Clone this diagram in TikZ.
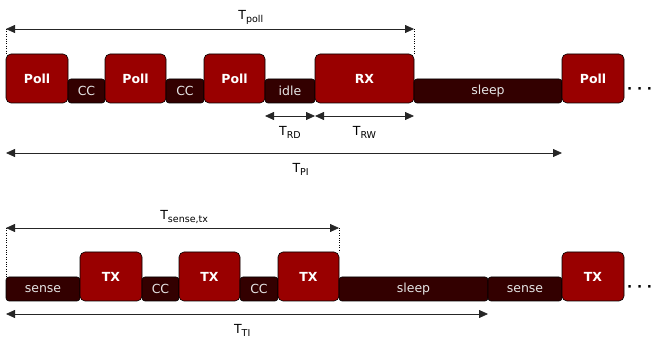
\documentclass[tikz,border=0pt]{standalone}
\usepackage{fontspec}
\setmainfont{DejaVu Sans}
\usepackage{xcolor}
\usepackage{tikz}
\usetikzlibrary{positioning,arrows.meta}

\definecolor{slotred}{HTML}{990000}
\definecolor{slotdark}{HTML}{330000}
\newcommand{\tsub}[1]{\raisebox{-0.45ex}{\fontsize{9.5}{10}\selectfont #1}}

\begin{document}
\begin{tikzpicture}[x=1pt,y=1pt,>={Triangle[length=9pt,width=8pt]},
    font=\fontsize{12.5}{15}\selectfont,
    big node/.style={draw=black,line width=0.6pt,fill=slotred,text=white,font=\fontsize{12.5}{15}\selectfont\bfseries,
        rounded corners=5pt,minimum height=49pt,inner sep=0pt,outer sep=0pt},
    small node/.style={draw=black,line width=0.6pt,fill=slotdark,text=white!90!black,
        rounded corners=3pt,minimum height=24pt,inner sep=0pt,outer sep=0pt},
    span/.style={<->,line width=0.8pt,draw=black!85},
    dots node/.style={font=\fontsize{13.5}{14}\selectfont\bfseries,inner sep=0pt,anchor=west,yshift=12pt}]
    \useasboundingbox (0,0) rectangle (654,348);

    % receiver
    \node[big node,minimum width=62pt,anchor=south west] (p1) at (6,245) {Poll};
    \node[small node,minimum width=37pt,right=0pt of p1.south east,anchor=south west] (cc1) {CC};
    \node[big node,minimum width=61pt,right=0pt of cc1.south east,anchor=south west] (p2) {Poll};
    \node[small node,minimum width=38pt,right=0pt of p2.south east,anchor=south west] (cc2) {CC};
    \node[big node,minimum width=61pt,right=0pt of cc2.south east,anchor=south west] (p3) {Poll};
    \node[small node,minimum width=50pt,right=0pt of p3.south east,anchor=south west] (idle) {idle};
    \node[big node,minimum width=99pt,right=0pt of idle.south east,anchor=south west] (rx) {RX};
    \node[small node,minimum width=148pt,right=0pt of rx.south east,anchor=south west] (sl1) {sleep};
    \node[big node,minimum width=62pt,right=0pt of sl1.south east,anchor=south west] (p4) {Poll};
    \node[dots node,right=3pt of p4.south east] (dots1) {·~·~·};

    \coordinate (pollA) at ([yshift=25pt]p1.north west);
    \coordinate (pollB) at ([yshift=25pt]rx.north east);
    \draw[dotted] (pollA) -- (p1.north west);
    \draw[dotted] (pollB) -- (rx.north east);
    \draw[span] (pollA) -- (pollB) node[pos=0.6,above=1pt] (tpoll) {T\tsub{poll}};
    \coordinate (rdA) at ([yshift=-13pt]idle.south west);
    \coordinate (rdB) at ([yshift=-13pt]idle.south east);
    \draw[span] (rdA) -- (rdB) node[midway,below=7pt] (trd) {T\tsub{RD}};
    \coordinate (rwA) at ([yshift=-13pt]rx.south west);
    \coordinate (rwB) at ([yshift=-13pt]rx.south east);
    \draw[span] (rwA) -- (rwB) node[midway,below=7pt] (trw) {T\tsub{RW}};
    \coordinate (piA) at ([yshift=-50pt]p1.south west);
    \coordinate (piB) at ([yshift=-50pt]p4.south west);
    \draw[span] (piA) -- (piB) node[pos=0.53,below=7pt] (tpi) {T\tsub{PI}};

    % sender
    \node[small node,minimum width=74pt,anchor=south west] (s1) at (6,47) {sense};
    \node[big node,minimum width=62pt,right=0pt of s1.south east,anchor=south west] (t1) {TX};
    \node[small node,minimum width=37pt,right=0pt of t1.south east,anchor=south west] (cc3) {CC};
    \node[big node,minimum width=61pt,right=0pt of cc3.south east,anchor=south west] (t2) {TX};
    \node[small node,minimum width=38pt,right=0pt of t2.south east,anchor=south west] (cc4) {CC};
    \node[big node,minimum width=61pt,right=0pt of cc4.south east,anchor=south west] (t3) {TX};
    \node[small node,minimum width=149pt,right=0pt of t3.south east,anchor=south west] (sl2) {sleep};
    \node[small node,minimum width=74pt,right=0pt of sl2.south east,anchor=south west] (s2) {sense};
    \node[big node,minimum width=62pt,right=0pt of s2.south east,anchor=south west] (t4) {TX};
    \node[dots node,right=3pt of t4.south east] (dots2) {·~·~·};

    \coordinate (senseA) at ([yshift=49pt]s1.north west);
    \coordinate (senseB) at ([yshift=24pt]t3.north east);
    \draw[dotted] (senseA) -- (s1.north west);
    \draw[dotted] (senseB) -- (t3.north east);
    \draw[span] (senseA) -- (senseB) node[pos=0.535,above=1pt] (tsense) {T\tsub{sense,tx}};
    \coordinate (tiA) at ([yshift=-13pt]s1.south west);
    \coordinate (tiB) at ([yshift=-13pt]sl2.south east);
    \draw[span] (tiA) -- (tiB) node[pos=0.49,below=7pt] (tti) {T\tsub{TI}};
\end{tikzpicture}
\end{document}
